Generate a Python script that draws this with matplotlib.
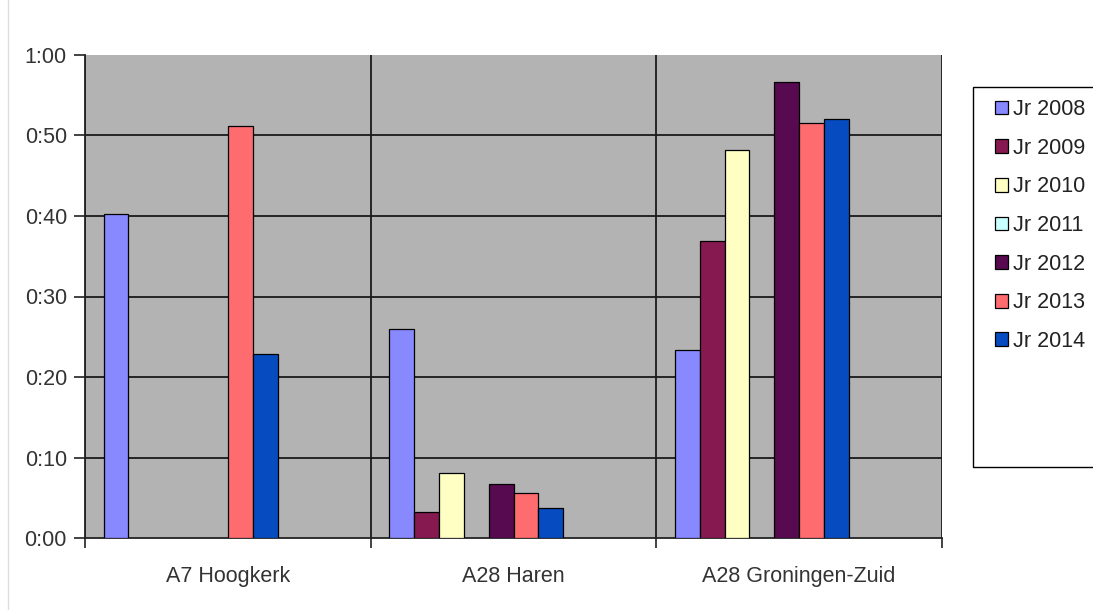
import matplotlib
matplotlib.use("Agg")
import matplotlib.pyplot as plt
import numpy as np
from matplotlib.patches import Rectangle
from matplotlib.lines import Line2D
from matplotlib.ticker import FuncFormatter

plt.rcParams['font.family'] = ['Liberation Sans', 'DejaVu Sans']

categories = ["A7 Hoogkerk", "A28 Haren", "A28 Groningen-Zuid"]
series = ["Jr 2008", "Jr 2009", "Jr 2010", "Jr 2011", "Jr 2012", "Jr 2013", "Jr 2014"]
# values in minutes (None = no bar)
jr2008 = [40.3, 26.0, 23.4]
jr2009 = [None, 3.2, 36.9]
jr2010 = [None, 8.1, 48.2]
jr2011 = [None, None, None]
jr2012 = [None, 6.7, 56.6]
jr2013 = [51.2, 5.6, 51.6]
jr2014 = [22.9, 3.7, 52.1]
values = [jr2008, jr2009, jr2010, jr2011, jr2012, jr2013, jr2014]
colors = ["#8888FF", "#861A50", "#FFFFC4", "#C8FFFF", "#570A4F", "#FF6C70", "#064CC0"]
n_slots = 10  # chart has room for 10 series, 7 shown
yticks = [0, 10, 20, 30, 40, 50, 60]

fig = plt.figure(figsize=(10.93, 6.10), dpi=100)
ax = fig.add_axes([85/1093, 1-538/610, (942-85)/1093, (538-55)/610])
ax.set_facecolor("#B3B3B3")

x = np.arange(len(categories))
w = 1.0 / (n_slots + 1.5)
handles = []
for i, (vals, c, lab) in enumerate(zip(values, colors, series)):
    v = np.array([np.nan if a is None else a for a in vals], dtype=float)
    b = ax.bar(x + (i - (n_slots - 1) / 2) * w, v, width=w, color=c,
               edgecolor="black", linewidth=0.9, label=lab, zorder=3)
    handles.append(b)

ax.set_xlim(-0.5, len(categories) - 0.5)
ax.set_ylim(0, 60)
ax.set_yticks(yticks)
ax.yaxis.set_major_formatter(FuncFormatter(lambda v, p: f"{int(v)//60}:{int(v)%60:02d}"))
ax.set_xticks(x)
ax.set_xticklabels(categories)
ax.set_xticks(np.arange(-0.5, len(categories)), minor=True)
ax.tick_params(axis="x", which="major", length=0, pad=20, labelsize=15.5, labelcolor="#333333")
ax.tick_params(axis="x", which="minor", length=7, width=1.2, color="#222222", direction="out")
ax.tick_params(axis="y", length=8, width=1.2, color="#222222", pad=5, labelsize=15.5, labelcolor="#333333")

ax.yaxis.grid(True, color="#1a1a1a", linewidth=1.3, zorder=1)
ax.xaxis.grid(True, which="minor", color="#1a1a1a", linewidth=1.3, zorder=1)
ax.set_axisbelow(True)
ax.get_ygridlines()[-1].set_visible(False)
ax.get_ygridlines()[0].set_visible(False)
for s in ["top", "right"]:
    ax.spines[s].set_visible(False)
for s in ["left", "bottom"]:
    ax.spines[s].set_color("#222222")
    ax.spines[s].set_linewidth(1.3)

# legend
fig.patches.append(Rectangle((973/1093, 1-467/610), 0.2, (467-87)/610, transform=fig.transFigure,
                             facecolor="white", edgecolor="black", linewidth=1.0, zorder=0))
leg = fig.legend(handles=handles, labels=series, loc="upper left",
                 bbox_to_anchor=(995/1093, 1-99/610), frameon=False, fontsize=15.5,
                 handlelength=0.6, handleheight=0.6, handletextpad=0.25, labelspacing=0.82,
                 borderpad=0.0, borderaxespad=0.0)
for t in leg.get_texts():
    t.set_color("#222222")

fig.add_artist(Line2D([8/1093, 8/1093], [0, 1], transform=fig.transFigure, color="#DDDDDD", linewidth=1))

fig.savefig("out.png", dpi=100)
